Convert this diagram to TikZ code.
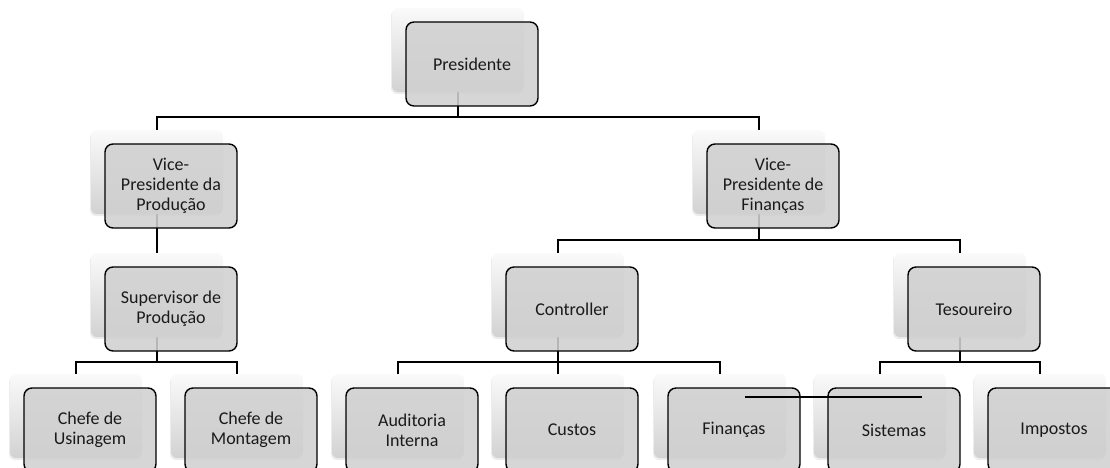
\documentclass[tikz,border=0pt]{standalone}
\usepackage{fontspec}
\setmainfont{Carlito}
\usetikzlibrary{positioning,backgrounds,shadows}
\definecolor{Card}{HTML}{D0D0D0}
\definecolor{Ink}{HTML}{1A1A1A}
\definecolor{PanelTop}{HTML}{FAFAFA}
\definecolor{PanelBottom}{HTML}{D2D2D2}

\begin{document}
\begin{tikzpicture}[
      x=1pt,y=-1pt,
      panel/.style={rounded corners=6pt,top color=PanelTop,bottom color=PanelBottom,
        minimum width=132pt,minimum height=84pt,inner sep=0pt,
        drop shadow={shadow xshift=-1pt,shadow yshift=-2pt,opacity=0.15}},
      card/.style={draw=black,line width=1.4pt,rounded corners=8pt,fill=Card,
        fill opacity=0.88,text opacity=1,text=Ink,align=center,
        minimum width=132pt,minimum height=84pt,inner sep=2pt,
        font=\fontsize{18}{20}\selectfont},
      link/.style={line width=1.3pt,draw=black}
    ]
      \clip (0,0) rectangle (1110,467);
      % bus levels
      \coordinate (busA) at (0,117);
      \coordinate (busB) at (0,240);
      \coordinate (busC) at (0,362);
      % panels behind the cards
      \node[panel] (presbg) at (458,50) {};
      \node[panel] (vpprodbg) at (157,172) {};
      \node[panel] (vpfinbg) at (759,172) {};
      \node[panel] (supprodbg) at (157,295) {};
      \node[panel] (ctrlbg) at (558,295) {};
      \node[panel] (tesbg) at (960,295) {};
      \node[panel] (usinbg) at (76,416) {};
      \node[panel] (montbg) at (237,416) {};
      \node[panel] (audbg) at (398,416) {};
      \node[panel] (custosbg) at (558,416) {};
      \node[panel] (finanbg) at (720,416) {};
      \node[panel] (sistbg) at (880,416) {};
      \node[panel] (imposbg) at (1040,416) {};
      % cards
      \node[card] (pres) at ([shift={(14,14)}]presbg) {Presidente};
      \node[card] (vpprod) at ([shift={(14,14)}]vpprodbg) {Vice-\\Presidente da\\Produção};
      \node[card] (vpfin) at ([shift={(14,14)}]vpfinbg) {Vice-\\Presidente de\\Finanças};
      \node[card] (supprod) at ([shift={(14,14)}]supprodbg) {Supervisor de\\Produção};
      \node[card] (ctrl) at ([shift={(14,14)}]ctrlbg) {Controller};
      \node[card] (tes) at ([shift={(14,14)}]tesbg) {Tesoureiro};
      \node[card] (usin) at ([shift={(14,14)}]usinbg) {Chefe de\\Usinagem};
      \node[card] (mont) at ([shift={(14,14)}]montbg) {Chefe de\\Montagem};
      \node[card] (aud) at ([shift={(14,14)}]audbg) {Auditoria\\Interna};
      \node[card] (custos) at ([shift={(14,14)}]custosbg) {Custos};
      \node[card] (finan) at ([shift={(14,14)}]finanbg) {Finanças};
      \node[card] (sist) at ([shift={(14,14)}]sistbg) {Sistemas};
      \node[card] (impos) at ([shift={(14,14)}]imposbg) {Impostos};
      % connectors
      \begin{scope}[on background layer]
        \draw[link] (presbg.center) -- (presbg.center |- busA) -| (vpprodbg.center);
        \draw[link] (presbg.center |- busA) -| (vpfinbg.center);
        \draw[link] (vpprodbg.center) -- (supprodbg.center);
        \draw[link] (vpfinbg.center) -- (vpfinbg.center |- busB) -| (ctrlbg.center);
        \draw[link] (vpfinbg.center |- busB) -| (tesbg.center);
        \draw[link] (supprodbg.center) -- (supprodbg.center |- busC) -| (usinbg.center);
        \draw[link] (supprodbg.center |- busC) -| (montbg.center);
        \draw[link] (ctrlbg.center) -- (ctrlbg.center |- busC) -| (audbg.center);
        \draw[link] (ctrlbg.center |- busC) -| (finanbg.center);
        \draw[link] (ctrlbg.center) -- (custosbg.center);
        \draw[link] (tesbg.center) -- (tesbg.center |- busC) -| (sistbg.center);
        \draw[link] (tesbg.center |- busC) -| (imposbg.center);
      \end{scope}
      % loose line over Finanças and Sistemas
      \coordinate (looseA) at (745,397);
      \coordinate (looseB) at (922,397);
      \draw[link] (looseA) -- (looseB);
    \end{tikzpicture}
\end{document}
